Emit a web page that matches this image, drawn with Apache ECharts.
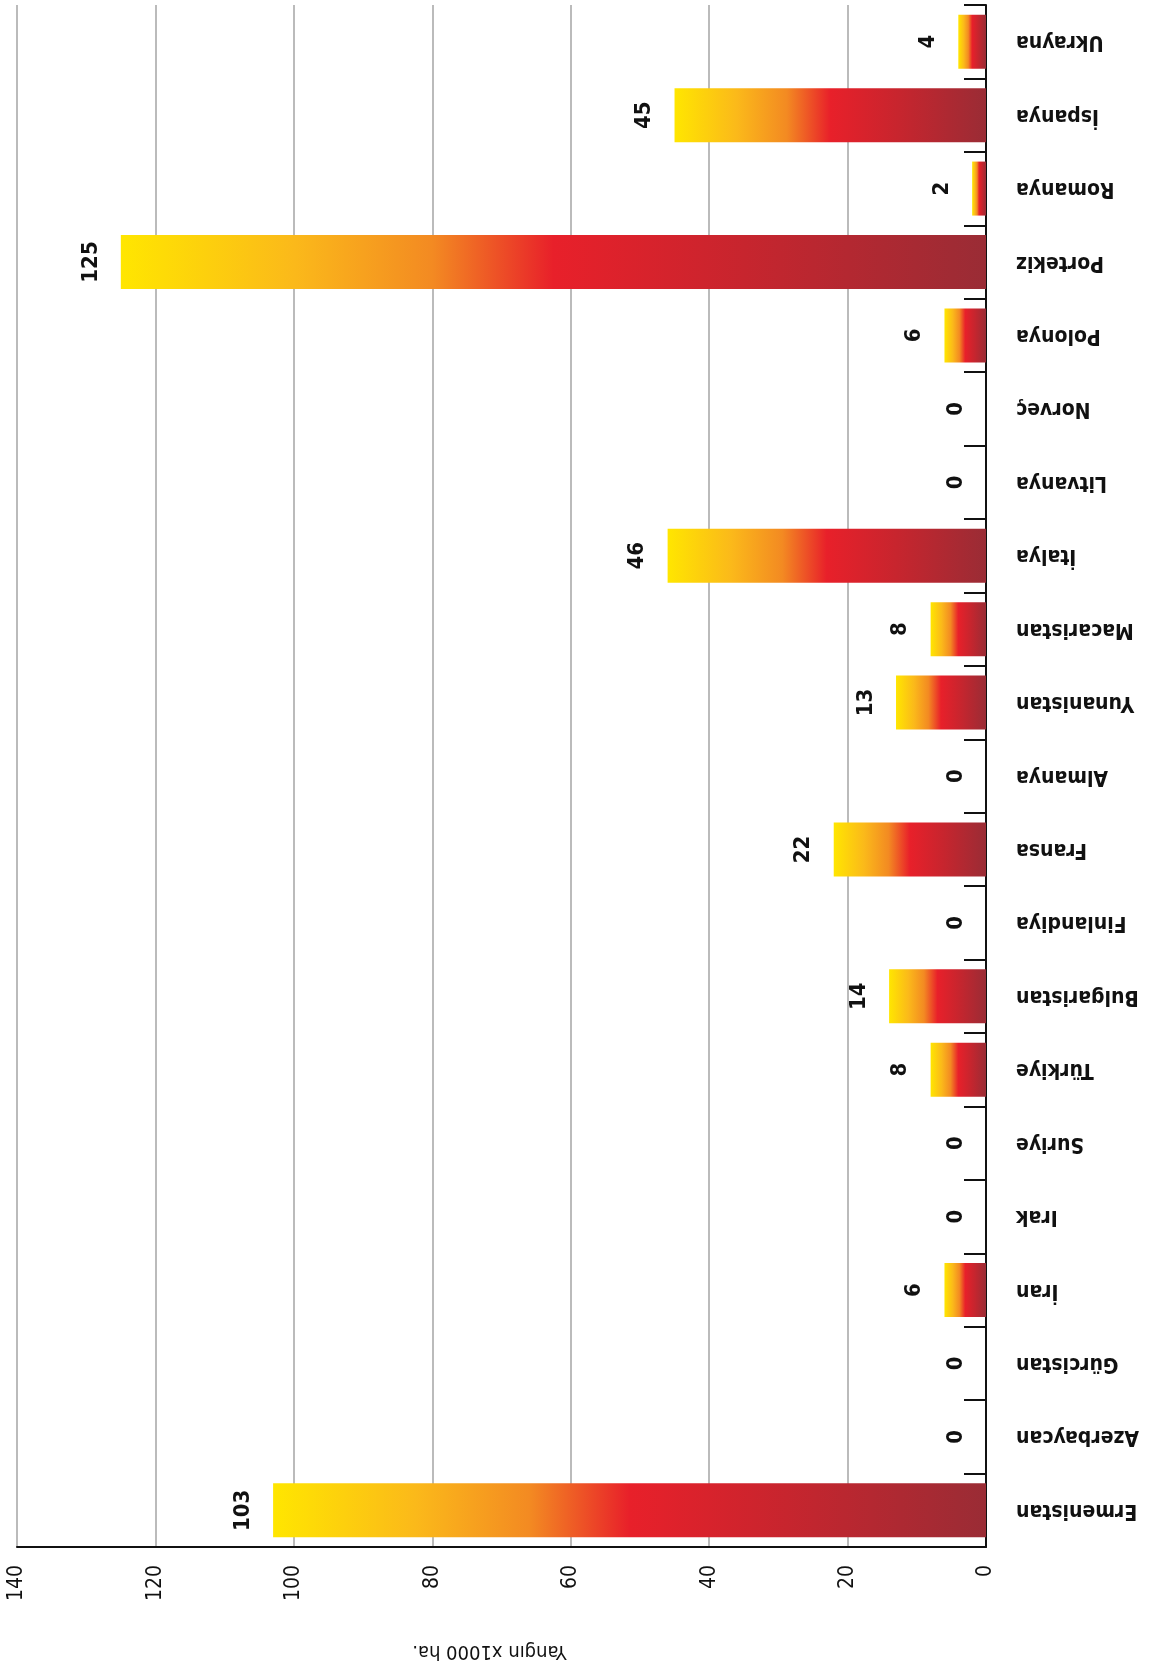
<!DOCTYPE html>
<html>
<head>
<meta charset="utf-8">
<title>Yangın</title>
<script src="https://cdn.jsdelivr.net/npm/echarts@6/dist/echarts.min.js"></script>
<style>
	html, body { margin: 0; padding: 0; background: #fff; }
	#chart { width: 1151px; height: 1676px; }
</style>
</head>
<body>
<div id="chart"></div>
<script>
// ülkeler (alttan üste)
var countries = ["Ermenistan", "Azerbaycan", "Gürcistan", "İran", "Irak", "Suriye", "Türkiye", "Bulgaristan", "Finlandiya", "Fransa", "Almanya", "Yunanistan", "Macaristan", "İtalya", "Litvanya", "Norveç", "Polonya", "Portekiz", "Romanya", "İspanya", "Ukrayna"];
// yanan alan x1000 ha
var burned = [103, 0, 0, 6, 0, 0, 8, 14, 0, 22, 0, 13, 8, 46, 0, 0, 6, 125, 2, 45, 4];
var axisMin = 0;
var axisMax = 140;
var axisStep = 20;
var axisTitle = "Yangın x1000 ha.";

var FONT = "'Liberation Sans Narrow', 'DejaVu Sans Condensed', 'Arial Narrow', sans-serif";

var myChart = echarts.init(document.getElementById("chart"));

var barColor = new echarts.graphic.LinearGradient(0, 0, 1, 0, [
	{ offset: 0, color: "#ffe600" },
	{ offset: 0.2, color: "#fbb91a" },
	{ offset: 0.36, color: "#f38a22" },
	{ offset: 0.5, color: "#e8202a" },
	{ offset: 0.72, color: "#c7252e" },
	{ offset: 1, color: "#9a2c35" }
]);

var option = {
	animation: false,
	grid: {
		left: 17,
		right: 165,
		top: 5,
		bottom: 129,
		containLabel: false,
		outerBoundsMode: "none"
	},
	xAxis: {
		type: "value",
		inverse: true,
		min: axisMin,
		max: axisMax,
		interval: axisStep,
		position: "bottom",
		name: axisTitle,
		nameLocation: "middle",
		nameGap: 94,
		nameRotate: 180,
		nameTextStyle: {
			color: "#111",
			fontFamily: FONT,
			fontSize: 20,
			padding: [0, 0, 0, 24]
		},
		axisLine: {
			show: true,
			lineStyle: { color: "#111", width: 2 }
		},
		axisTick: { show: false },
		axisLabel: {
			rotate: 90,
			margin: 18,
			color: "#111",
			fontFamily: FONT,
			fontSize: 21
		},
		splitLine: {
			show: true,
			lineStyle: { color: "#bbbbbb", width: 2 }
		}
	},
	yAxis: {
		type: "category",
		position: "right",
		data: countries,
		axisLine: {
			show: true,
			lineStyle: { color: "#111", width: 2 }
		},
		axisTick: {
			show: true,
			inside: true,
			length: 22,
			lineStyle: { color: "#111", width: 2 }
		},
		axisLabel: {
			rotate: 180,
			margin: 30,
			color: "#111",
			fontFamily: FONT,
			fontWeight: "bold",
			fontSize: 21
		}
	},
	series: [{
		type: "bar",
		data: burned,
		barWidth: 54,
		itemStyle: { color: barColor },
		label: {
			show: true,
			position: "left",
			distance: 30,
			rotate: 90,
			align: "center",
			verticalAlign: "middle",
			color: "#111",
			fontFamily: FONT,
			fontWeight: "bold",
			fontSize: 22
		}
	}]
};

myChart.setOption(option);
</script>
</body>
</html>
